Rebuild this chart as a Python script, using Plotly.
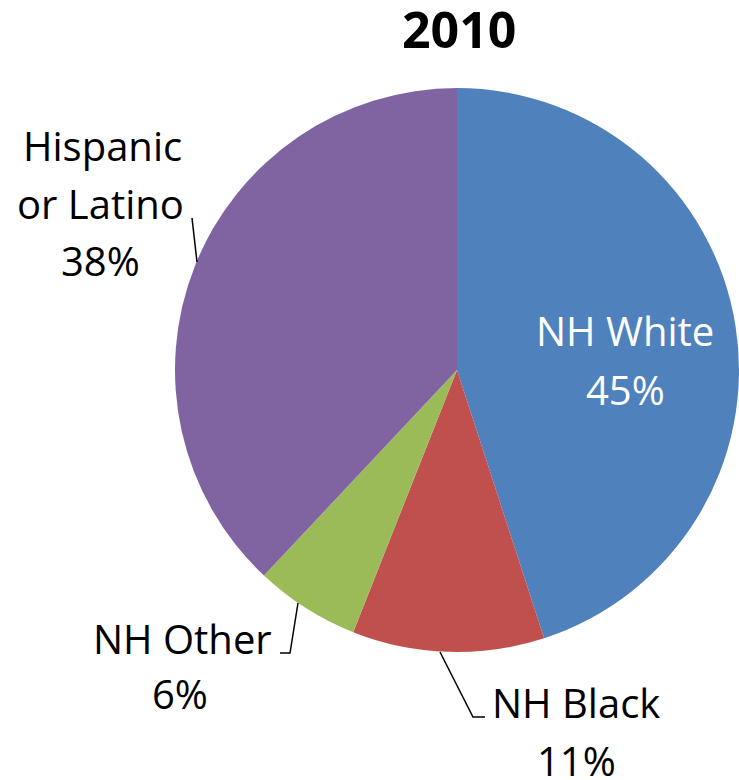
import plotly.graph_objects as go

# Data
title_text = "2010"
labels = ["NH White", "NH Black", "NH Other", "Hispanic or Latino"]
values = [45, 11, 6, 38]
colors = ["#4F81BD", "#C0504D", "#9BBB59", "#8064A2"]

W, H = 739, 780
FONT = "Open Sans"
FS = 40

def px(x):
    return x / W

def py(y):
    return 1 - y / H

fig = go.Figure()
fig.add_trace(go.Pie(
    labels=labels,
    values=values,
    marker=dict(colors=colors, line=dict(color="white", width=0)),
    sort=False,
    direction="clockwise",
    rotation=0,
    textinfo="none",
    hoverinfo="label+percent",
    showlegend=False,
    domain=dict(x=[px(175), 1.0], y=[py(652), py(88)]),
))

pct = [f"{round(v / sum(values) * 100)}%" for v in values]

# label lines: (text, center x, baseline y, color)
label_lines = [
    ("NH White", 625, 345, "white"),
    (pct[0], 625, 404, "white"),
    ("NH Black", 576, 717, "black"),
    (pct[1], 576, 775, "black"),
    ("NH Other", 182, 653, "black"),
    (pct[2], 180, 708, "black"),
    ("Hispanic", 102, 160, "black"),
    ("or Latino", 100, 218, "black"),
    (pct[3], 100, 275, "black"),
]

annotations = []
for txt, cx, base, col in label_lines:
    annotations.append(dict(
        text=txt, x=px(cx), y=py(base - 0.36 * FS), xref="paper", yref="paper",
        xanchor="center", yanchor="middle", showarrow=False,
        font=dict(family=FONT, size=FS, color=col),
    ))

annotations.append(dict(
    text="<b>" + title_text + "</b>", x=px(459), y=py(47 - 0.36 * 50),
    xref="paper", yref="paper", xanchor="center", yanchor="middle",
    showarrow=False, font=dict(family=FONT, size=50, color="black"),
))

# leader lines (pixel paths)
leaders = [
    [(192, 218), (197, 262)],
    [(280, 653), (290, 653), (298, 603)],
    [(440, 652), (473, 717), (485, 717)],
]
shapes = []
for pts in leaders:
    path = "M " + " L ".join(f"{px(x)},{py(y)}" for x, y in pts)
    shapes.append(dict(type="path", path=path, xref="paper", yref="paper",
                       line=dict(color="black", width=1.5)))

fig.update_layout(
    width=W, height=H,
    margin=dict(l=0, r=0, t=0, b=0),
    paper_bgcolor="white",
    plot_bgcolor="white",
    annotations=annotations,
    shapes=shapes,
    font=dict(family=FONT),
)

fig.write_html(
    "out.html",
    config={"displayModeBar": False},
    post_script="document.body.style.margin='0';document.body.style.overflow='hidden';",
)
